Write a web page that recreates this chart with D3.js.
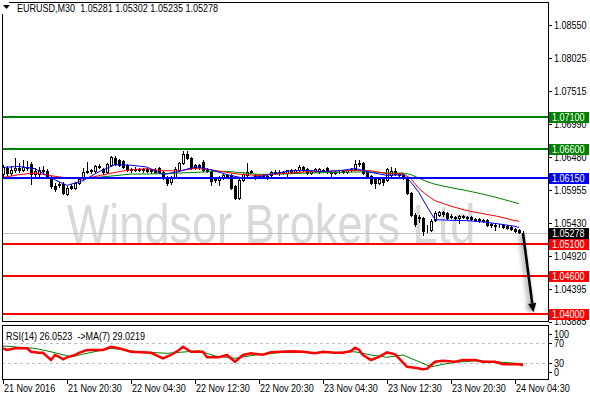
<!DOCTYPE html>
<html><head><meta charset="utf-8">
<script src="https://cdn.jsdelivr.net/npm/d3@7/dist/d3.min.js"></script>
<style>
html,body{margin:0;padding:0;background:#fff;}
svg{display:block;}
text{font-family:'Liberation Sans',Arial,sans-serif;font-size:11px;fill:#000;white-space:pre;}
</style></head><body><svg id="c" width="590" height="400"></svg>
<script>
// ---------------- DATA ----------------
const symbol = "EURUSD,M30";
const open = [1.06210,1.06304,1.06226,1.06273,1.06304,1.06273,1.06320,1.06367,1.06210,1.06210,1.06273,1.06257,1.06163,1.06022,1.06038,1.06053,1.05896,1.06022,1.05990,1.06069,1.06147,1.06242,1.06257,1.06257,1.06320,1.06289,1.06242,1.06352,1.06461,1.06430,1.06414,1.06352,1.06289,1.06273,1.06289,1.06273,1.06289,1.06257,1.06273,1.06304,1.06242,1.06163,1.06085,1.06163,1.06273,1.06383,1.06524,1.06461,1.06320,1.06352,1.06399,1.06273,1.06257,1.06147,1.06116,1.06147,1.06195,1.06195,1.06022,1.05833,1.06116,1.06195,1.06242,1.06195,1.06163,1.06163,1.06147,1.06195,1.06242,1.06226,1.06242,1.06226,1.06273,1.06242,1.06273,1.06320,1.06289,1.06226,1.06257,1.06242,1.06273,1.06304,1.06242,1.06226,1.06242,1.06242,1.06242,1.06273,1.06289,1.06367,1.06383,1.06242,1.06179,1.06132,1.06069,1.06132,1.06116,1.06195,1.06257,1.06210,1.06195,1.06147,1.05912,1.05566,1.05519,1.05519,1.05378,1.05331,1.05488,1.05566,1.05614,1.05598,1.05535,1.05535,1.05519,1.05551,1.05535,1.05535,1.05504,1.05504,1.05488,1.05488,1.05425,1.05410,1.05394,1.05410,1.05394,1.05378,1.05347,1.05331,1.05281];
const high = [1.06352,1.06336,1.06336,1.06461,1.06383,1.06430,1.06414,1.06399,1.06304,1.06320,1.06336,1.06289,1.06179,1.06069,1.06085,1.06085,1.06022,1.06053,1.06085,1.06163,1.06304,1.06399,1.06289,1.06352,1.06367,1.06304,1.06383,1.06493,1.06493,1.06446,1.06430,1.06367,1.06304,1.06320,1.06304,1.06304,1.06304,1.06289,1.06304,1.06320,1.06257,1.06179,1.06179,1.06320,1.06399,1.06571,1.06571,1.06477,1.06367,1.06367,1.06430,1.06304,1.06273,1.06163,1.06179,1.06210,1.06210,1.06210,1.06038,1.06132,1.06226,1.06383,1.06273,1.06210,1.06195,1.06210,1.06195,1.06257,1.06273,1.06273,1.06257,1.06273,1.06289,1.06289,1.06352,1.06336,1.06304,1.06273,1.06304,1.06304,1.06289,1.06320,1.06257,1.06257,1.06257,1.06273,1.06289,1.06304,1.06430,1.06430,1.06399,1.06257,1.06195,1.06147,1.06147,1.06147,1.06304,1.06320,1.06304,1.06226,1.06210,1.06163,1.05928,1.05598,1.05566,1.05535,1.05410,1.05504,1.05629,1.05629,1.05629,1.05614,1.05582,1.05551,1.05566,1.05566,1.05551,1.05551,1.05519,1.05519,1.05504,1.05504,1.05441,1.05425,1.05425,1.05425,1.05410,1.05394,1.05363,1.05347,1.05302];
const low = [1.06179,1.06195,1.06195,1.06242,1.06242,1.06257,1.06273,1.06053,1.06147,1.06179,1.06210,1.06147,1.05990,1.05943,1.06006,1.05896,1.05881,1.05975,1.05975,1.06053,1.06132,1.06226,1.06226,1.06242,1.06304,1.06210,1.06226,1.06336,1.06352,1.06336,1.06304,1.06257,1.06242,1.06257,1.06257,1.06242,1.06242,1.06226,1.06226,1.06226,1.06132,1.06038,1.06053,1.06147,1.06257,1.06367,1.06446,1.06289,1.06289,1.06289,1.06257,1.06242,1.06038,1.06085,1.06038,1.06132,1.06163,1.05975,1.05818,1.05818,1.06100,1.06179,1.06226,1.06132,1.06147,1.06147,1.06132,1.06179,1.06210,1.06195,1.06210,1.06163,1.06226,1.06226,1.06257,1.06257,1.06210,1.06210,1.06242,1.06226,1.06242,1.06226,1.06163,1.06210,1.06226,1.06226,1.06226,1.06257,1.06273,1.06336,1.06210,1.06163,1.06053,1.05990,1.06053,1.06038,1.06100,1.06179,1.06195,1.06163,1.06132,1.05896,1.05551,1.05394,1.05457,1.05253,1.05300,1.05315,1.05472,1.05551,1.05551,1.05504,1.05519,1.05504,1.05441,1.05519,1.05504,1.05488,1.05472,1.05457,1.05457,1.05394,1.05378,1.05331,1.05378,1.05363,1.05347,1.05331,1.05300,1.05284,1.05235];
const close = [1.06320,1.06226,1.06273,1.06304,1.06273,1.06320,1.06304,1.06210,1.06257,1.06273,1.06257,1.06179,1.06022,1.05975,1.06053,1.05912,1.05990,1.05990,1.06069,1.06132,1.06242,1.06257,1.06273,1.06336,1.06336,1.06242,1.06367,1.06477,1.06367,1.06352,1.06320,1.06273,1.06273,1.06289,1.06273,1.06289,1.06257,1.06273,1.06242,1.06242,1.06147,1.06069,1.06147,1.06289,1.06383,1.06524,1.06461,1.06304,1.06352,1.06320,1.06273,1.06257,1.06100,1.06116,1.06147,1.06195,1.06179,1.05990,1.05833,1.06116,1.06210,1.06242,1.06257,1.06147,1.06179,1.06179,1.06179,1.06242,1.06226,1.06242,1.06226,1.06273,1.06242,1.06273,1.06320,1.06273,1.06226,1.06257,1.06289,1.06289,1.06257,1.06242,1.06226,1.06242,1.06242,1.06257,1.06273,1.06289,1.06367,1.06383,1.06226,1.06179,1.06069,1.06069,1.06132,1.06085,1.06289,1.06257,1.06210,1.06195,1.06147,1.05912,1.05566,1.05425,1.05535,1.05315,1.05378,1.05472,1.05598,1.05614,1.05582,1.05519,1.05551,1.05519,1.05551,1.05535,1.05519,1.05504,1.05488,1.05488,1.05472,1.05410,1.05410,1.05394,1.05394,1.05378,1.05363,1.05347,1.05315,1.05300,1.05278];

// moving averages on price (read at sampled bars)
const maBars = [0,4,8,12,16,20,24,28,32,36,40,44,48,52,56,60,64,68,72,76,80,84,88,92,96,100,102,104,106,108,112,116,120,124,128,129];
const maFast = [1.06309,1.06325,1.06289,1.06143,1.06027,1.06100,1.06242,1.06352,1.06344,1.06315,1.06195,1.06246,1.06320,1.06273,1.06195,1.06143,1.06163,1.06215,1.06257,1.06262,1.06246,1.06257,1.06293,1.06231,1.06184,1.06195,1.06077,1.05912,1.05692,1.05488,1.05477,1.05472,1.05452,1.05420,1.05383,1.05362];
const maMid  = [1.06152,1.06195,1.06221,1.06179,1.06143,1.06127,1.06179,1.06231,1.06273,1.06289,1.06257,1.06253,1.06293,1.06273,1.06231,1.06195,1.06184,1.06205,1.06221,1.06242,1.06246,1.06257,1.06262,1.06257,1.06210,1.06210,1.06132,1.05975,1.05873,1.05786,1.05700,1.05629,1.05582,1.05535,1.05472,1.05461];
const maSlow = [1.06132,1.06132,1.06147,1.06147,1.06140,1.06140,1.06155,1.06179,1.06205,1.06205,1.06210,1.06221,1.06231,1.06242,1.06246,1.06226,1.06199,1.06205,1.06210,1.06221,1.06226,1.06231,1.06237,1.06237,1.06221,1.06221,1.06195,1.06140,1.06085,1.06045,1.05990,1.05943,1.05888,1.05826,1.05755,1.05739];

// RSI(14) and its MA(7)
const rsiBars = [0,1,3,6,7,9,10,12,13,14,15,16,18,19,21,25,27,29,32,37,40,42,44,45,47,50,51,54,56,58,60,62,65,67,72,75,78,80,83,85,87,88,89,90,92,94,96,98,99,101,103,105,106,108,110,113,115,118,120,123,125,129,130];
const rsiVals = [60,56.6,60,60,53,51,51,36.6,46.6,43,38,42,46.6,51,56.6,56.6,63,60,53,51,40,46.6,56.6,63,53,53,42,42,46.6,33,46.6,50,47,52,54,53,50,53,51,51,54.6,61,57,46.6,36.6,43,52,48,40,23,21,18,19,33,35,33,36.6,36.6,33,33,28,28,26.05];
const rsiMaBars = [0,8,12,17,21,27,34,41,49,53,58,63,70,80,88,92,96,100,107,110,113,118,123,130];
const rsiMaVals = [64.6,60,53,43,50,60,53,50,55,44.6,40,46.6,52,51,53,46.6,42,46.6,23,28,32,35,33,29.02];
const rsiLast = "26.0523", rsiMaLast = "29.0219";

// axes
const priceTicks = [1.08550,1.08025,1.07515,1.06990,1.06480,1.05955,1.05430,1.04920,1.04395,1.03885];
const timeTickBars = [0,16,32,48,64,80,96,112,128];
const timeTickLabels = ["21 Nov 2016","21 Nov 20:30","22 Nov 04:30","22 Nov 12:30","22 Nov 20:30","23 Nov 04:30","23 Nov 12:30","23 Nov 20:30","24 Nov 04:30"];
const rsiTicks = [100,70,30,0];
const rsiLevels = [70,30];

// horizontal levels
const levelValues = [1.07100,1.06600,1.06150,1.05100,1.04600,1.04000];
const levelKinds  = ["resistance","resistance","pivot","support","support","support"];
const lastPrice = 1.05278;
const arrowEnd = {bar:132.6, price:1.0403};
const watermark = "Windsor Brokers Ltd";

// ---------------- STYLE / LAYOUT ----------------
const kindColor = {resistance:"#008000", pivot:"#0000ff", support:"#ff0000"};
const W = 590, H = 400;
const mainL = 2, mainR = 548, mainT = 2, mainB = 321;
const rsiT = 325, rsiB = 379;
const narrow = 0.82;   // horizontal squeeze to mimic the terminal's narrow font

const svg = d3.select("#c");
const x = d3.scaleLinear().domain([0, 130]).range([3, 523]);
const y = d3.scaleLinear().domain([1.03885, 1.08550]).range([321.5, 25]);
const yr = d3.scaleLinear().domain([0, 100]).range([378.3, 328.3]);
const crisp = v => Math.round(v) + 0.5;

// defs: clip + shadow
const defs = svg.append("defs");
defs.append("clipPath").attr("id","clipMain").append("rect")
  .attr("x",mainL).attr("y",mainT).attr("width",mainR-mainL).attr("height",mainB-mainT);
defs.append("clipPath").attr("id","clipRsi").append("rect")
  .attr("x",mainL).attr("y",rsiT).attr("width",mainR-mainL).attr("height",rsiB-rsiT);
const f = defs.append("filter").attr("id","shadow").attr("x","-200%").attr("y","-50%").attr("width","500%").attr("height","200%");
f.append("feGaussianBlur").attr("in","SourceAlpha").attr("stdDeviation",2.6).attr("result","b");
f.append("feOffset").attr("in","b").attr("dx",-2).attr("dy",1).attr("result","o");
f.append("feComponentTransfer").attr("in","o").attr("result","s")
  .append("feFuncA").attr("type","linear").attr("slope",0.55);
const fm = f.append("feMerge");
fm.append("feMergeNode").attr("in","s");
fm.append("feMergeNode").attr("in","SourceGraphic");

svg.append("rect").attr("width",W).attr("height",H).attr("fill","#fff");

// ---------------- MAIN PANEL ----------------
const main = svg.append("g").attr("clip-path","url(#clipMain)");

// watermark
main.append("text").attr("x", 271).attr("y", 243)
  .attr("text-anchor","middle")
  .style("font-size","55px").style("fill","#d9d9d9")
  .text(watermark);

// last price line
main.append("line").attr("x1",mainL).attr("x2",mainR)
  .attr("y1",crisp(y(lastPrice))).attr("y2",crisp(y(lastPrice)))
  .attr("stroke","#c0c0c0").attr("stroke-width",1);

// candles
const bars = d3.range(open.length).map(i => ({i, o:open[i], h:high[i], l:low[i], c:close[i]}));
const cg = main.append("g");
cg.selectAll("line.wick").data(bars).join("line").attr("class","wick")
  .attr("x1", d => Math.round(x(d.i)) + 0.5).attr("x2", d => Math.round(x(d.i)) + 0.5)
  .attr("y1", d => Math.round(y(d.h))).attr("y2", d => Math.round(y(d.l)) + 1)
  .attr("stroke","#000").attr("stroke-width",1);
cg.selectAll("rect.body").data(bars).join("rect").attr("class","body")
  .attr("x", d => Math.round(x(d.i)) - 1 + 0.5)
  .attr("y", d => Math.round(y(Math.max(d.o,d.c))) + 0.5)
  .attr("width", 2)
  .attr("height", d => Math.max(0, Math.round(y(Math.min(d.o,d.c))) - Math.round(y(Math.max(d.o,d.c)))))
  .attr("fill", d => d.c >= d.o ? "#fff" : "#000")
  .attr("stroke","#000").attr("stroke-width",1);

// moving averages
const maLine = vals => d3.line().x((d,k) => x(maBars[k])).y(d => y(d))(vals);
[[maSlow,"#008000"],[maMid,"#ff0000"],[maFast,"#0000ff"]].forEach(([vals,col]) => {
  main.append("path").attr("d", maLine(vals)).attr("fill","none")
    .attr("stroke",col).attr("stroke-width",1);
});

// level lines
main.selectAll("line.level").data(levelValues).join("line").attr("class","level")
  .attr("x1",mainL).attr("x2",mainR)
  .attr("y1", d => Math.round(y(d))).attr("y2", d => Math.round(y(d)))
  .attr("stroke", (d,k) => kindColor[levelKinds[k]]).attr("stroke-width",2);

// frame main
svg.append("rect").attr("x",mainL+0.5).attr("y",mainT+0.5).attr("width",mainR-mainL).attr("height",mainB-mainT)
  .attr("fill","none").attr("stroke","#000").attr("stroke-width",1);

// price axis
const ax = svg.append("g");
ax.selectAll("line").data(priceTicks).join("line")
  .attr("x1",mainR+1).attr("x2",mainR+4)
  .attr("y1", d => crisp(y(d))).attr("y2", d => crisp(y(d)))
  .attr("stroke","#000");
ax.selectAll("text").data(priceTicks).join("text")
  .attr("x",mainR+6).attr("y", d => y(d)).attr("dy","0.36em")
  .text(d => d.toFixed(5));

// level labels
const labelData = levelValues.map((v,k) => ({v, col: kindColor[levelKinds[k]]}))
  .concat([{v:lastPrice, col:"#000"}]);
const lg = svg.append("g");
lg.selectAll("rect").data(labelData).join("rect")
  .attr("x", mainR+1).attr("y", d => Math.round(y(d.v)) - 5).attr("width", 40).attr("height", 11)
  .attr("fill", d => d.col);
lg.selectAll("text").data(labelData).join("text")
  .attr("x", mainR+4).attr("y", d => Math.round(y(d.v)) + 0.5).attr("dy","0.36em")
  .style("fill","#fff").text(d => d.v.toFixed(5));

// arrow
const ag = svg.append("g").attr("filter","url(#shadow)");
const x0 = x(130), y0 = y(lastPrice), x1 = x(arrowEnd.bar), y1 = y(arrowEnd.price);
const ang = Math.atan2(y1-y0, x1-x0);
const headL = 9, headW = 4;
const bx = x1 - headL*Math.cos(ang), by = y1 - headL*Math.sin(ang);
ag.append("line").attr("x1",x0).attr("y1",y0).attr("x2",bx).attr("y2",by)
  .attr("stroke","#000").attr("stroke-width",2.6);
ag.append("path").attr("d", d3.line()([
  [x1,y1],
  [bx + headW*Math.sin(ang), by - headW*Math.cos(ang)],
  [bx - headW*Math.sin(ang), by + headW*Math.cos(ang)]
]) + "Z").attr("fill","#000");

// header
svg.append("rect").attr("x",1).attr("y",1).attr("width",8).attr("height",13).attr("fill","#fff");
svg.append("path").attr("d","M3,5 L10,5 L6.5,9 Z").attr("fill","#000");
svg.append("text").attr("x",17).attr("y",12)
  .text(symbol + "  " + [open[130],high[130],low[130],close[130]].map(v=>v.toFixed(5)).join(" "));

// ---------------- RSI PANEL ----------------
const rp = svg.append("g").attr("clip-path","url(#clipRsi)");
rp.selectAll("line.lvl").data(rsiLevels).join("line").attr("class","lvl")
  .attr("x1",mainL).attr("x2",mainR)
  .attr("y1", d => crisp(yr(d))).attr("y2", d => crisp(yr(d)))
  .attr("stroke","#c0c0c0").attr("stroke-dasharray","3,3");
rp.append("path").attr("d", d3.line().x((d,k)=>x(rsiMaBars[k])).y(d=>yr(d))(rsiMaVals))
  .attr("fill","none").attr("stroke","#008000").attr("stroke-width",1);
rp.append("path").attr("d", d3.line().x((d,k)=>x(rsiBars[k])).y(d=>yr(d))(rsiVals))
  .attr("fill","none").attr("stroke","#ff0000").attr("stroke-width",2.5);

svg.append("rect").attr("x",mainL+0.5).attr("y",rsiT+0.5).attr("width",mainR-mainL).attr("height",rsiB-rsiT)
  .attr("fill","none").attr("stroke","#000");
svg.append("text").attr("x",6).attr("y",340)
  .text("RSI(14) " + rsiLast + "  ->MA(7) " + rsiMaLast);

const rTickY = v => Math.max(rsiT + 9, Math.min(rsiB - 7, yr(v)));
svg.selectAll("line.rt").data(rsiTicks).join("line").attr("class","rt")
  .attr("x1",mainR+1).attr("x2",mainR+4)
  .attr("y1", d => crisp(rTickY(d))).attr("y2", d => crisp(rTickY(d))).attr("stroke","#000");
svg.selectAll("text.rt").data(rsiTicks).join("text").attr("class","rt")
  .attr("x",mainR+6).attr("y", d => rTickY(d)).attr("dy","0.36em").text(d => d);

// time axis
svg.selectAll("line.tt").data(timeTickBars).join("line").attr("class","tt")
  .attr("x1", d => crisp(x(d))).attr("x2", d => crisp(x(d)))
  .attr("y1", rsiB).attr("y2", rsiB + 5).attr("stroke","#000");
svg.selectAll("text.tt").data(timeTickBars).join("text").attr("class","tt")
  .attr("x", d => Math.round(x(d)) + 1).attr("y", 392)
  .text((d,k) => timeTickLabels[k]);

// squeeze all texts horizontally (narrow terminal font look)
svg.selectAll("text").each(function(){
  const w = this.getComputedTextLength();
  this.setAttribute("textLength", (w * narrow).toFixed(2));
  this.setAttribute("lengthAdjust", "spacingAndGlyphs");
});
</script></body></html>
